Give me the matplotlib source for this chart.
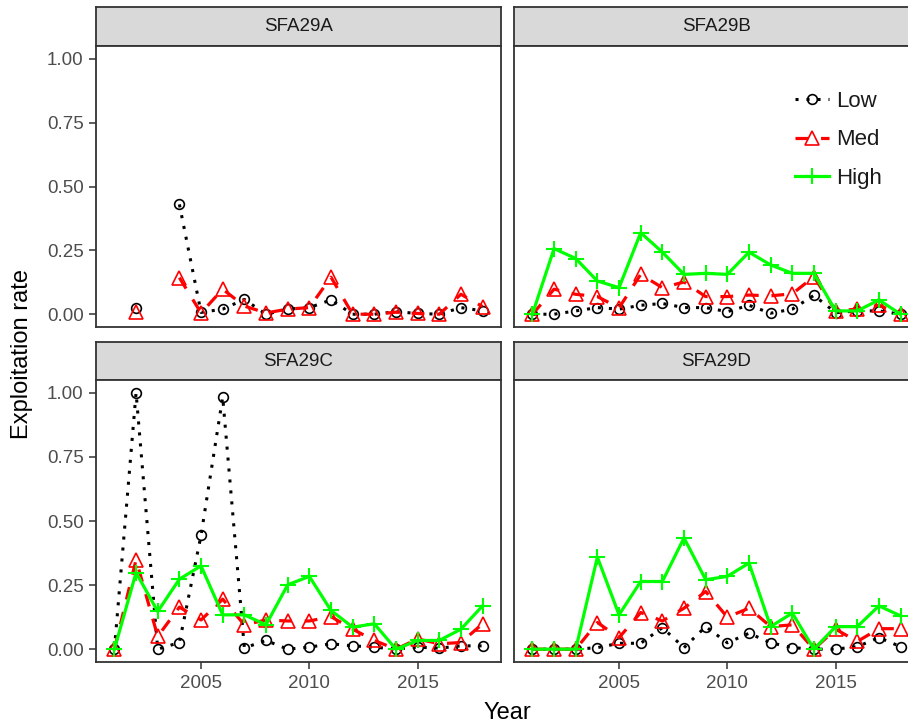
import matplotlib
matplotlib.use("Agg")
import matplotlib.pyplot as plt
import numpy as np

nan = np.nan

years = list(range(2001, 2019))
areas = ["SFA29A", "SFA29B", "SFA29C", "SFA29D"]

# exploitation rate by area and habitat class
low = {
    "SFA29A": [nan, 0.026, nan, 0.43, 0.007, 0.02, 0.058, 0.0, 0.02, 0.026,
               0.056, 0.0, 0.0, 0.01, 0.003, 0.0, 0.026, 0.013],
    "SFA29B": [0.0, 0.0, 0.013, 0.026, 0.02, 0.035, 0.042, 0.026, 0.026, 0.01,
               0.035, 0.004, 0.02, 0.074, 0.006, 0.013, 0.013, 0.0],
    "SFA29C": [0.0, 1.0, 0.0, 0.026, 0.444, 0.983, 0.005, 0.034, 0.0, 0.008,
               0.021, 0.013, 0.008, 0.0, 0.008, 0.004, 0.013, 0.013],
    "SFA29D": [0.0, 0.0, 0.0, 0.006, 0.023, 0.023, 0.084, 0.006, 0.088, 0.025,
               0.062, 0.025, 0.006, 0.0, 0.0, 0.01, 0.045, 0.01],
}
med = {
    "SFA29A": [nan, 0.01, nan, 0.143, 0.005, 0.098, 0.032, 0.005, 0.02, 0.026,
               0.145, 0.0, 0.0, 0.008, 0.003, 0.0, 0.078, 0.03],
    "SFA29B": [0.0, 0.098, 0.078, 0.069, 0.025, 0.156, 0.104, 0.126, 0.069, 0.069,
               0.075, 0.072, 0.08, 0.147, 0.013, 0.02, 0.035, 0.0],
    "SFA29C": [0.0, 0.349, 0.05, 0.164, 0.114, 0.195, 0.095, 0.114, 0.11, 0.11,
               0.127, 0.078, 0.034, 0.0, 0.04, 0.021, 0.026, 0.099],
    "SFA29D": [0.0, 0.0, 0.0, 0.104, 0.045, 0.143, 0.11, 0.16, 0.225, 0.125,
               0.16, 0.088, 0.095, 0.0, 0.078, 0.03, 0.08, 0.08],
}
high = {
    "SFA29A": [nan] * 18,
    "SFA29B": [0.0, 0.257, 0.218, 0.13, 0.104, 0.319, 0.243, 0.156, 0.16, 0.156,
               0.243, 0.193, 0.16, 0.16, 0.013, 0.013, 0.056, 0.0],
    "SFA29C": [0.0, 0.299, 0.147, 0.273, 0.325, 0.134, 0.134, 0.095, 0.251, 0.284,
               0.151, 0.086, 0.099, 0.0, 0.034, 0.034, 0.078, 0.169],
    "SFA29D": [0.0, 0.0, 0.0, 0.359, 0.134, 0.264, 0.264, 0.434, 0.271, 0.284,
               0.336, 0.088, 0.141, 0.0, 0.088, 0.088, 0.169, 0.13],
}

plt.rcParams["font.family"] = ["Liberation Sans", "DejaVu Sans"]

W, H = 908, 725
fig = plt.figure(figsize=(W / 100, H / 100), dpi=100)


def box(x0, y0, x1, y1):
    # pixel box (top-left origin) -> figure fraction rect
    return [x0 / W, 1 - y1 / H, (x1 - x0) / W, (y1 - y0) / H]


cols = [(96, 501), (514, 919)]
rows = [((7, 46), (46, 327)), ((342, 380), (380, 662))]
edge = "#333333"

styles = [
    ("Low", low, dict(color="black", ls=(0, (1, 2.6)), lw=2.2, marker="o", ms=7,
                      mfc="none", mec="black", mew=1.2, dash_capstyle="butt")),
    ("Med", med, dict(color="red", ls=(0, (4, 4)), lw=2.3, marker="^", ms=10,
                      mfc="none", mec="red", mew=1.2, dash_capstyle="butt")),
    ("High", high, dict(color="#00FF00", ls="-", lw=2.3, marker="+", ms=11,
                        mew=1.5)),
]

axes = {}
for i, area in enumerate(areas):
    r, c = divmod(i, 2)
    (sy0, sy1), (py0, py1) = rows[r]
    x0, x1 = cols[c]

    sax = fig.add_axes(box(x0, sy0, x1, sy1))
    sax.set_facecolor("#D9D9D9")
    sax.set_xticks([])
    sax.set_yticks([])
    for s in sax.spines.values():
        s.set_color(edge)
        s.set_linewidth(1.3)
    sax.text(0.5, 0.5, area, ha="center", va="center", fontsize=13.5,
             color="#1A1A1A", transform=sax.transAxes)

    ax = fig.add_axes(box(x0, py0, x1, py1))
    for name, data, kw in styles:
        ax.plot(years, data[area], label=name, **kw)

    ax.set_xlim(2000.15, 2018.85)
    ax.set_ylim(-0.05, 1.05)
    ax.set_xticks([2005, 2010, 2015])
    ax.set_yticks([0, 0.25, 0.5, 0.75, 1.0])
    ax.set_yticklabels(["0.00", "0.25", "0.50", "0.75", "1.00"])
    for s in ax.spines.values():
        s.set_color(edge)
        s.set_linewidth(1.3)
    ax.tick_params(length=5, width=1.1, color=edge, labelcolor="#4D4D4D",
                   labelsize=13.5, pad=4)
    if c == 1:
        ax.tick_params(axis="y", left=False, labelleft=False)
    if r == 0:
        ax.tick_params(axis="x", bottom=False, labelbottom=False)
    axes[area] = ax

leg = axes["SFA29B"].legend(loc="upper left", bbox_to_anchor=(795 / W, 1 - 91 / H),
                            bbox_transform=fig.transFigure, frameon=False,
                            fontsize=16, numpoints=1, handlelength=1.55,
                            handletextpad=0.3, labelspacing=0.78, borderpad=0,
                            borderaxespad=0)
for t in leg.get_texts():
    t.set_color("#1A1A1A")

fig.text(507 / W, 1 - 713 / H, "Year", ha="center", va="center", fontsize=17)
fig.text(22 / W, 1 - 354 / H, "Exploitation rate", ha="center", va="center",
         rotation=90, fontsize=17)

fig.savefig("out.png", dpi=100)
